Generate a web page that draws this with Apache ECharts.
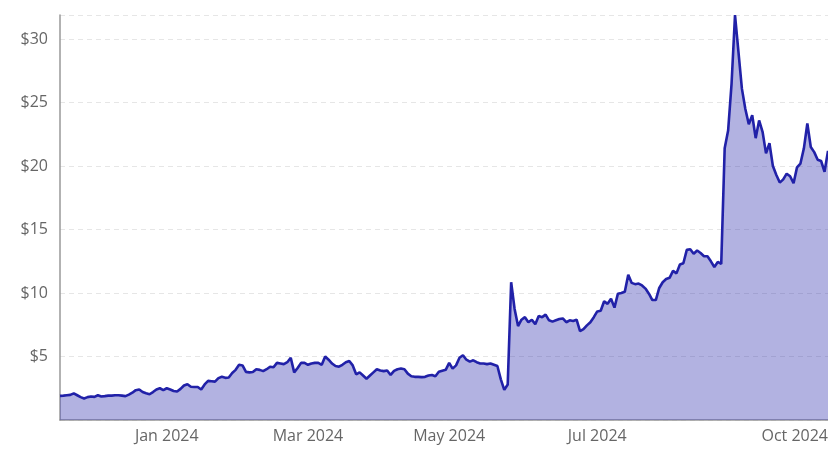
<!DOCTYPE html>
<html>
<head>
<meta charset="utf-8">
<script src="https://cdn.jsdelivr.net/npm/echarts@6/dist/echarts.min.js"></script>
<style>
html,body{margin:0;padding:0;background:#fff;}
#chart{width:828px;height:450px;}
</style>
</head>
<body>
<div id="chart"></div>
<script>
// Trading calendar (categories)
const startDate = '2023-11-16';
const endDate = '2024-10-08';
const holidays = ['2023-11-23','2023-12-25','2024-01-01','2024-01-15','2024-02-19','2024-03-29','2024-05-27','2024-06-19','2024-07-04','2024-09-02'];

// Closing prices, one per trading day
const pricesNov = [1.9,1.92,1.95,1.98,2.1,1.95,1.8,1.7,1.8,1.85];
const pricesDec = [1.82,1.95,1.85,1.88,1.92,1.92,1.95,1.95,1.92,1.88,2.0,2.15,2.35,2.4,2.2,2.1,2.03,2.2,2.4,2.5];
const pricesJan = [2.35,2.5,2.4,2.28,2.24,2.45,2.72,2.82,2.62,2.6,2.6,2.4,2.8,3.08,3.05,3.02,3.3,3.4,3.32,3.35,3.7];
const pricesFeb = [3.95,4.35,4.3,3.79,3.75,3.78,4.0,3.95,3.85,4.0,4.19,4.15,4.5,4.45,4.4,4.55,4.9,3.75,4.1,4.5];
const pricesMar = [4.5,4.35,4.45,4.5,4.5,4.35,5.0,4.75,4.45,4.25,4.2,4.35,4.55,4.65,4.3,3.6,3.75,3.5,3.25,3.5];
const pricesApr = [3.75,4.0,3.9,3.85,3.9,3.55,3.87,4.0,4.05,4.0,3.65,3.45,3.4,3.4,3.38,3.4,3.5,3.55,3.45,3.8,3.88,3.95];
const pricesMay = [4.5,4.05,4.3,4.9,5.1,4.75,4.6,4.7,4.55,4.45,4.45,4.4,4.45,4.35,4.25,3.2,2.37,2.8,10.85,8.75,7.4,7.9];
const pricesJun = [8.1,7.7,7.9,7.55,8.2,8.1,8.3,7.85,7.75,7.85,7.95,8.0,7.7,7.85,7.8,7.9,7.0,7.15,7.45];
const pricesJul = [7.7,8.1,8.55,8.6,9.35,9.15,9.55,8.85,9.95,10.0,10.1,11.45,10.8,10.7,10.75,10.6,10.35,9.95,9.45,9.45,10.4,10.85];
const pricesAug = [11.1,11.2,11.75,11.55,12.25,12.35,13.4,13.45,13.1,13.35,13.15,12.9,12.9,12.5,12.05,12.45,12.3,21.4,22.8,26.5,31.9,29.0];
const pricesSep = [26.1,24.5,23.3,24.0,22.2,23.6,22.7,21.0,21.8,20.0,19.3,18.7,18.95,19.4,19.2,18.65,19.9,20.2,21.4,23.35];
const pricesOct = [21.5,21.1,20.5,20.4,19.55,21.2];

// Axis labels
const labelDates = ['2024-01-03','2024-03-04','2024-05-01','2024-07-03','2024-10-08'];
const labelTexts = ['Jan 2024','Mar 2024','May 2024','Jul 2024','Oct 2024'];
const yTickStep = 5;

function tradingDays(s, e, hol) {
  const out = [];
  const d = new Date(s + 'T00:00:00Z');
  const end = new Date(e + 'T00:00:00Z');
  while (d <= end) {
    const wd = d.getUTCDay();
    const iso = d.toISOString().slice(0, 10);
    if (wd !== 0 && wd !== 6 && hol.indexOf(iso) < 0) out.push(iso);
    d.setUTCDate(d.getUTCDate() + 1);
  }
  return out;
}

const dates = tradingDays(startDate, endDate, holidays);
const prices = [].concat(pricesNov, pricesDec, pricesJan, pricesFeb, pricesMar, pricesApr,
  pricesMay, pricesJun, pricesJul, pricesAug, pricesSep, pricesOct);

const lineColor = '#2121a8';
const chart = echarts.init(document.getElementById('chart'), null, {renderer: 'canvas'});
chart.setOption({
  animation: false,
  backgroundColor: '#ffffff',
  grid: {left: 60, right: 0, top: 15, bottom: 30, containLabel: false, outerBoundsMode: 'none'},
  xAxis: {
    type: 'category',
    data: dates,
    boundaryGap: false,
    axisLine: {show: true, lineStyle: {color: '#999999', width: 1.5}},
    axisTick: {show: false},
    splitLine: {show: false},
    axisLabel: {
      interval: function (idx, val) { return labelDates.indexOf(val) >= 0; },
      formatter: function (val) { const k = labelDates.indexOf(val); return k >= 0 ? labelTexts[k] : ''; },
      color: '#666666',
      fontSize: 16,
      fontFamily: 'Open Sans, sans-serif',
      margin: 8,
      alignMaxLabel: 'right'
    }
  },
  yAxis: {
    type: 'value',
    min: 0,
    max: 'dataMax',
    interval: yTickStep,
    axisLine: {show: true, lineStyle: {color: '#999999', width: 1.5}},
    axisTick: {show: false},
    splitLine: {show: true, lineStyle: {color: '#e6e6e6', type: [5, 4], width: 1}},
    axisLabel: {
      showMinLabel: false,
      showMaxLabel: false,
      formatter: function (v) { return '$' + v; },
      color: '#666666',
      fontSize: 16,
      fontFamily: 'Open Sans, sans-serif',
      margin: 12
    }
  },
  series: [{
    type: 'line',
    data: prices,
    showSymbol: false,
    symbol: 'none',
    sampling: null,
    lineStyle: {color: lineColor, width: 2.6},
    itemStyle: {color: lineColor},
    areaStyle: {color: lineColor, opacity: 0.35}
  }]
});
</script>
</body>
</html>
